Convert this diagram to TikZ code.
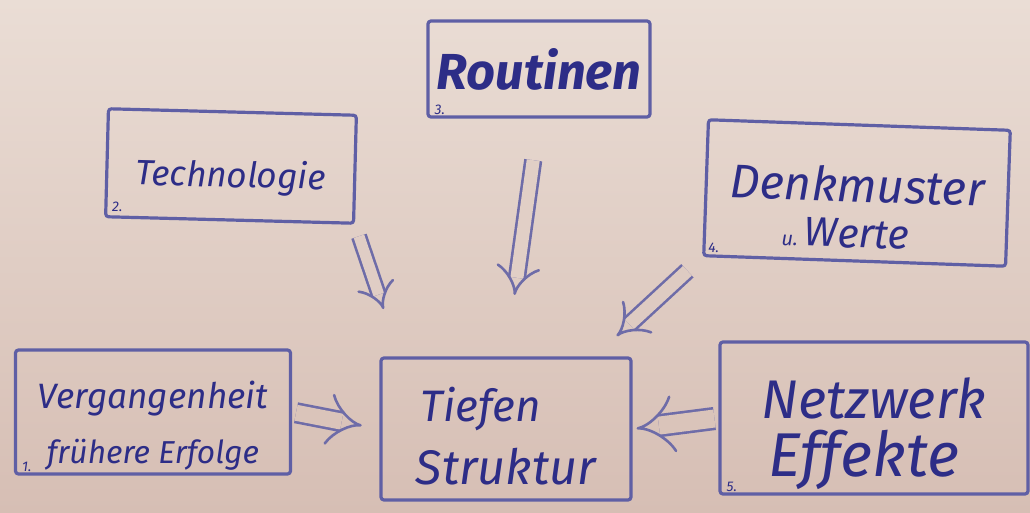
\documentclass[tikz,border=0pt]{standalone}
\usepackage{fontspec}
\setmainfont{Fira Sans}
\usetikzlibrary{arrows.meta,calc}
\definecolor{paperTop}{RGB}{234,221,213}
\definecolor{paperBot}{RGB}{214,190,180}
\definecolor{inkText}{RGB}{45,45,135}
\definecolor{inkLine}{RGB}{95,95,165}
\definecolor{inkArrow}{RGB}{110,108,168}
\newcommand{\fitw}[2]{\resizebox{#1pt}{!}{\itshape #2}}
\tikzset{
  sketchbox/.style={draw=inkLine, line width=3.2pt, rounded corners=3pt,
    inner sep=0pt, text=inkText, align=center},
  numlabel/.style={text=inkText, font=\itshape\fontsize{14}{14}\selectfont, inner sep=0pt},
  dblarrow/.style={draw=inkArrow, line width=2.6pt,
    double distance=#1, -{Implies[length=16pt,width=52pt]}},
  dblarrow/.default=12pt
}
\begin{document}
\begin{tikzpicture}[x=1pt,y=-1pt]
\useasboundingbox (0,0) rectangle (1030,513);
\shade[top color=paperTop, bottom color=paperBot] (0,0) rectangle (1030,513);

% boxes
\node[sketchbox, minimum width=222pt, minimum height=96pt] (rout) at (539,69)
  {\fitw{205}{\bfseries Routinen}};
\node[sketchbox, minimum width=248pt, minimum height=108pt, rotate=-1.5] (tech) at (231,166)
  {\rule{0pt}{50pt}\fitw{190}{Technologie}};
\node[sketchbox, minimum width=302pt, minimum height=136pt, rotate=-2] (denk) at (857,193)
  {\rule{0pt}{64pt}\fitw{255}{Denkmuster}\\[16pt]\hspace*{-20pt}{\itshape\fontsize{20}{20}\selectfont u.}\hspace{6pt}\fitw{105}{Werte}};
\node[sketchbox, minimum width=275pt, minimum height=124pt] (verg) at (153,412)
  {\rule{0pt}{54pt}\fitw{230}{Vergangenheit}\\[22pt]\fitw{212}{frühere Erfolge}};
\node[sketchbox, minimum width=250pt, minimum height=142pt] (tief) at (506,429)
  {\rule{0pt}{48pt}\hspace*{-50pt}\fitw{120}{Tiefen}\\[16pt]\fitw{180}{Struktur}};
\node[sketchbox, minimum width=308pt, minimum height=152pt] (netz) at (874,418)
  {\rule{0pt}{72pt}\fitw{225}{Netzwerk}\\[10pt]\hspace*{-20pt}\fitw{190}{Effekte}};

% numbers
\node[numlabel, anchor=south west] (n1) at ($(verg.south west)+(8,-4)$) {1.};
\node[numlabel, anchor=south west] (n2) at ($(tech.south west)+(8,-6)$) {2.};
\node[numlabel, anchor=south west] (n3) at ($(rout.south west)+(8,-4)$) {3.};
\node[numlabel, anchor=south west] (n4) at ($(denk.south west)+(6,-4)$) {4.};
\node[numlabel, anchor=south west] (n5) at ($(netz.south west)+(8,-4)$) {5.};

% arrows
\draw[dblarrow=11pt, double=paperBot!50!paperTop, shorten <=12pt, shorten >=50pt]
  (tech.south east) -- ($(tief.north west)!0.08!(tief.north east)$);
\draw[dblarrow=13pt, double=paperBot!45!paperTop, shorten <=42pt, shorten >=62pt]
  (rout.south) -- (tief.north);
\draw[dblarrow=13pt, double=paperBot!58!paperTop, shorten <=20pt, shorten >=30pt]
  (denk.south west) -- ($(tief.north east)!0.15!(tief.north west)$);
\draw[dblarrow=18pt, double=paperBot!82!paperTop, shorten <=4pt, shorten >=4pt]
  (netz.west) -- (tief.east);
\draw[dblarrow=16pt, double=paperBot!82!paperTop, shorten <=4pt, shorten >=18pt]
  (verg.east) -- (tief.west);
\end{tikzpicture}
\end{document}
